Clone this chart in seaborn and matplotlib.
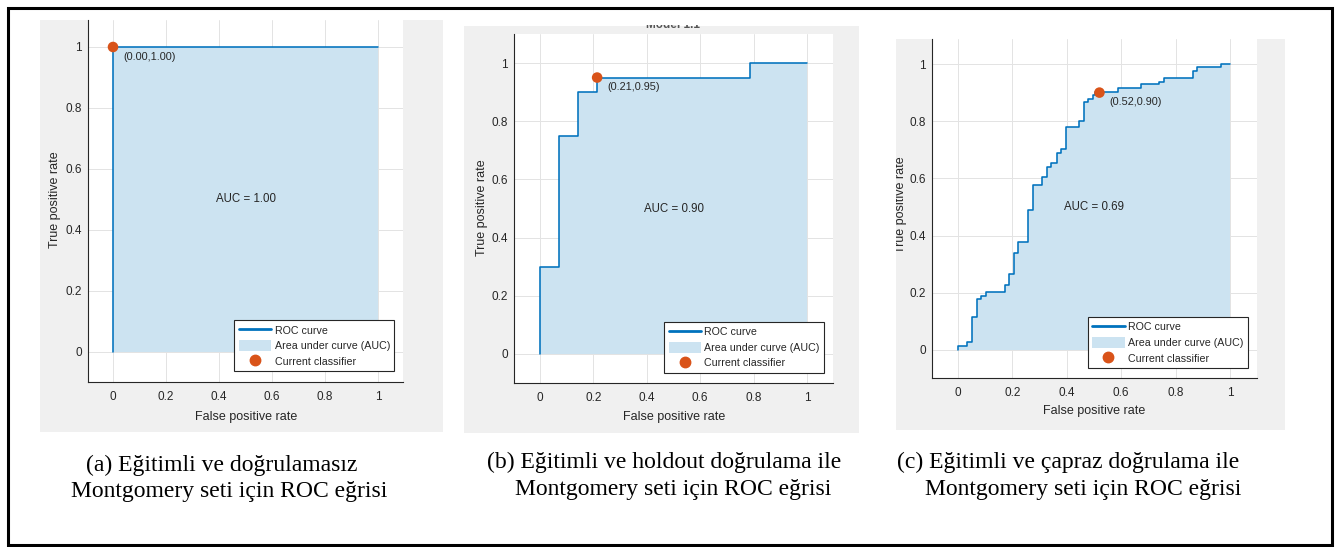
import numpy as np
import matplotlib.pyplot as plt
import seaborn as sns
import pandas as pd
from matplotlib.lines import Line2D
from matplotlib.patches import Patch, Rectangle
from matplotlib.transforms import Bbox, TransformedBbox

# 1. DATA

fpr_a = [0, 0, 1]
tpr_a = [0, 1.00, 1.00]

fpr_b = [0, 0, 0.071, 0.143, 0.214, 0.786, 1]
tpr_b = [0, 0.30, 0.75, 0.90, 0.95, 1.00, 1.00]

fpr_c = [0, 0, 0.034, 0.050, 0.069, 0.083, 0.103, 0.172, 0.189, 0.206, 0.221,
         0.257, 0.275, 0.309, 0.326, 0.343, 0.363, 0.377, 0.397, 0.446, 0.463,
         0.478, 0.498, 0.504, 0.587, 0.672, 0.740, 0.757, 0.863, 0.880, 0.967, 1]
tpr_c = [0, 0.014, 0.027, 0.117, 0.177, 0.189, 0.203, 0.228, 0.265, 0.340, 0.376,
         0.490, 0.578, 0.604, 0.639, 0.653, 0.690, 0.704, 0.779, 0.802, 0.866,
         0.876, 0.890, 0.902, 0.916, 0.930, 0.937, 0.951, 0.977, 0.991, 1.000, 1.000]

op_x = [0.00, 0.214, 0.52]   # current classifier
op_y = [1.00, 0.95, 0.90]
auc_values = [1.00, 0.90, 0.69]

ticks = [0, 0.2, 0.4, 0.6, 0.8, 1]
tick_labels = ['0', '0.2', '0.4', '0.6', '0.8', '1']
legend_labels = ['ROC curve', 'Area under curve (AUC)', 'Current classifier']

captions = [
    ['(a) Eğitimli ve doğrulamasız', 'Montgomery seti için ROC eğrisi'],
    ['(b) Eğitimli ve holdout doğrulama ile', 'Montgomery seti için ROC eğrisi'],
    ['(c) Eğitimli ve çapraz doğrulama ile', 'Montgomery seti için ROC eğrisi'],
]

# 2. STYLE

sns.set_style('white')
plt.rcParams['font.family'] = ['Liberation Sans', 'DejaVu Sans']

BLUE = '#0072BD'
ORANGE = '#D95319'
FILL = '#CCE3F1'
GRAY = '#F0F0F0'
DARK = '#262626'

W, H = 1341, 547
fig = plt.figure(figsize=(W / 100, H / 100), dpi=100)
fig.patch.set_facecolor('white')


def fig_rect(x0, y0, x1, y1):
    # pixel box (top-left origin) -> figure fraction rect
    return (x0 / W, 1 - y1 / H, (x1 - x0) / W, (y1 - y0) / H)


def pix_clip(x0, y0, x1, y1):
    return TransformedBbox(Bbox([[x0 / W, 1 - y1 / H], [x1 / W, 1 - y0 / H]]),
                           fig.transFigure)


# panel layout in pixels: gray box, axes box, data->pixel anchors, label centres, captions
panels = [
    dict(gray=(40, 20, 443, 432), axes=(88, 20, 403, 382), x01=(113, 378), y01=(352, 47),
         ylab=(55, 200), xlab=(245.7, 416.7),
         cap=[(86, 471), (71, 497)]),
    dict(gray=(464, 26, 859, 433), axes=(514, 34, 833, 383), x01=(540, 807), y01=(354, 63),
         ylab=(481.7, 208), xlab=(674, 416.7),
         cap=[(487, 468), (515, 495)]),
    dict(gray=(896, 39, 1285, 430), axes=(932, 39, 1257, 378), x01=(958, 1230), y01=(350, 64),
         ylab=(901, 205), xlab=(1094, 411),
         cap=[(897, 468), (925, 495)]),
]

curves = [(fpr_a, tpr_a), (fpr_b, tpr_b), (fpr_c, tpr_c)]

# 3. DRAW PANELS

for i, p in enumerate(panels):
    gx0, gy0, gx1, gy1 = p['gray']
    x, y, w, h = fig_rect(gx0, gy0, gx1, gy1)
    fig.add_artist(Rectangle((x, y), w, h, transform=fig.transFigure,
                             facecolor=GRAY, edgecolor='none', zorder=-10))

    l, t, r, b = p['axes']
    ax = fig.add_axes(fig_rect(l, t, r, b))
    ax.set_facecolor('white')
    xa, xb = p['x01']
    ya, yb = p['y01']
    ax.set_xlim((l - xa) / (xb - xa), (r - xa) / (xb - xa))
    ax.set_ylim((ya - b) / (ya - yb), (ya - t) / (ya - yb))

    df = pd.DataFrame({'fpr': curves[i][0], 'tpr': curves[i][1]})
    ax.fill_between(df['fpr'], df['tpr'], step='post', color=FILL, lw=0, zorder=1)
    sns.lineplot(data=df, x='fpr', y='tpr', drawstyle='steps-post', sort=False,
                 estimator=None, color=BLUE, lw=1.15, ax=ax, zorder=3)
    sns.scatterplot(x=[op_x[i]], y=[op_y[i]], s=58, color=ORANGE, edgecolor='none',
                    ax=ax, zorder=4)
    ax.annotate(f'({op_x[i]:.2f},{op_y[i]:.2f})', (op_x[i], op_y[i]),
                xytext=(7.4, -7), textcoords='offset points', ha='left', va='center',
                fontsize=7.8, color=DARK)
    ax.text(0.5, 0.5, f'AUC = {auc_values[i]:.2f}', ha='center', va='center',
            fontsize=8.3, color=DARK)

    ax.set_xticks(ticks)
    ax.set_xticklabels(tick_labels)
    ax.set_yticks(ticks)
    ax.set_yticklabels(tick_labels)
    ax.tick_params(direction='in', length=3, width=0.6, colors=DARK, labelsize=8.5)
    ax.tick_params(axis='x', pad=6.5)
    ax.tick_params(axis='y', pad=4.3)
    ax.grid(True, color='#E3E3E3', lw=0.7)
    ax.set_axisbelow(True)
    for s in ['top', 'right']:
        ax.spines[s].set_visible(False)
    for s in ['left', 'bottom']:
        ax.spines[s].set_color(DARK)
        ax.spines[s].set_linewidth(0.8)

    ax.set_xlabel('False positive rate', fontsize=9, color=DARK)
    ax.set_ylabel('True positive rate', fontsize=9, color=DARK)
    ax.xaxis.label.set_va('center')
    ax.yaxis.label.set_va('center')
    ax.xaxis.set_label_coords((p['xlab'][0] - l) / (r - l), (b - p['xlab'][1]) / (b - t))
    ax.yaxis.set_label_coords((p['ylab'][0] - l) / (r - l), (b - p['ylab'][1]) / (b - t))
    ax.yaxis.label.set_clip_box(pix_clip(gx0, gy0, gx1, gy1))
    ax.yaxis.label.set_clip_on(True)

    handles = [Line2D([], [], color=BLUE, lw=2),
               Patch(facecolor=FILL, edgecolor='none'),
               Line2D([], [], ls='none', marker='o', color=ORANGE, ms=7.5)]
    leg = ax.legend(handles, legend_labels, loc='lower right', bbox_to_anchor=(0.972, 0.03),
                    borderaxespad=0, fontsize=7.7, frameon=True, fancybox=False,
                    edgecolor=DARK, framealpha=1, borderpad=0.4, labelspacing=0.42,
                    handlelength=3.0, handleheight=1.2, handletextpad=0.35)
    leg.get_frame().set_linewidth(0.8)

    for line, (cx, cy) in zip(captions[i], p['cap']):
        fig.text(cx / W, 1 - cy / H, line, ha='left', va='baseline', fontsize=17,
                 family=['Liberation Serif', 'DejaVu Serif'], color='black')

# title of panel (b): only its lower edge survives the crop in the source image
title = fig.text(673 / W, 1 - 28.5 / H, 'Model 1.1', ha='center', va='baseline',
                 fontsize=8.5, fontweight='bold', color='#555555')
title.set_clip_box(pix_clip(464, 25, 859, 34))
title.set_clip_on(True)

# 4. OUTER FRAME

fx, fy, fw, fh = fig_rect(8, 7.5, 1332, 545)
fig.add_artist(Rectangle((fx, fy), fw, fh, transform=fig.transFigure, fill=False,
                         edgecolor='black', lw=2.2, zorder=10))

fig.savefig('out.png', dpi=100)
